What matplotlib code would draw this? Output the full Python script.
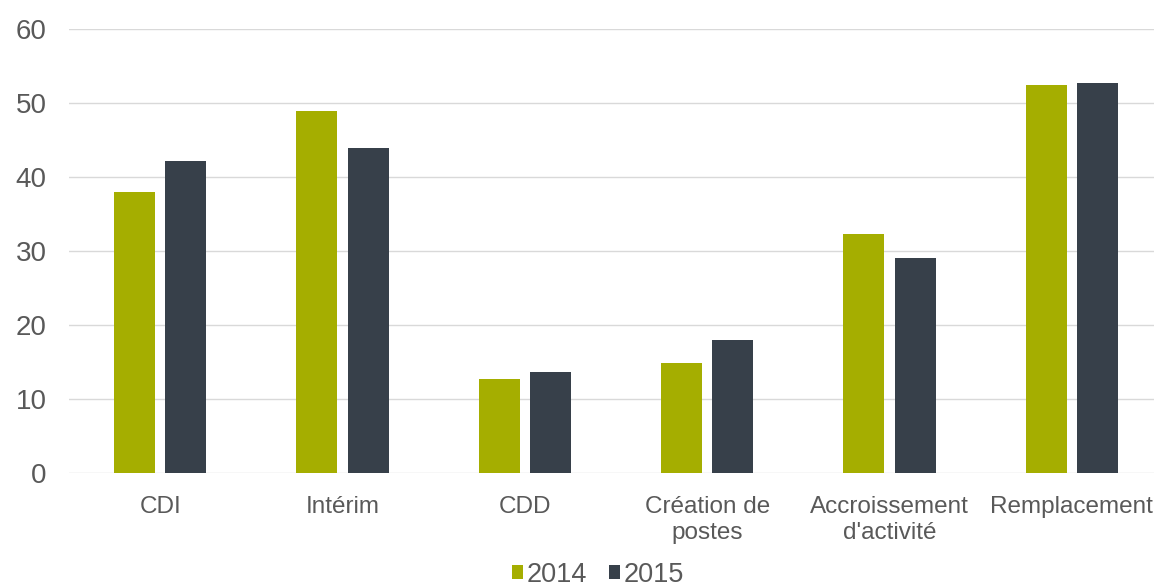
import numpy as np
import matplotlib.pyplot as plt
from matplotlib.patches import Patch

# Données
categories = ["CDI", "Intérim", "CDD", "Création de\npostes",
              "Accroissement\nd'activité", "Remplacement"]
values_2014 = [38.0, 49.0, 12.8, 14.9, 32.4, 52.5]
values_2015 = [42.2, 44.0, 13.7, 18.0, 29.1, 52.7]
years = ["2014", "2015"]
y_ticks = [0, 10, 20, 30, 40, 50, 60]

colors = ["#A5AE00", "#37404A"]
text_color = "#595959"

plt.rcParams['font.family'] = ['Liberation Sans', 'DejaVu Sans']

fig = plt.figure(figsize=(11.54, 5.88), dpi=100)
ax = fig.add_axes([69 / 1154, 114.7 / 588, 1094 / 1154, 0.755])

x = np.arange(len(categories))
width = 0.225
offset = 0.14

ax.bar(x - offset, values_2014, width, color=colors[0], zorder=3)
ax.bar(x + offset, values_2015, width, color=colors[1], zorder=3)

ax.set_xlim(-0.5, len(categories) - 0.5)
ax.set_ylim(0, 60)
ax.set_yticks(y_ticks)
ax.set_xticks(x)
ax.set_xticklabels(categories, linespacing=1.25)

ax.grid(axis='y', color='#D9D9D9', linewidth=1, zorder=0)
for side in ['top', 'right', 'left', 'bottom']:
    ax.spines[side].set_visible(False)
ax.tick_params(axis='y', length=0, pad=16, labelsize=20, labelcolor=text_color)
ax.tick_params(axis='x', length=0, pad=16, labelsize=17.5, labelcolor=text_color)

handles = [Patch(facecolor=c) for c in colors]
fig.legend(handles, years, loc='center', bbox_to_anchor=(0.518, 0.022),
           ncol=2, frameon=False, fontsize=19.5, labelcolor=text_color,
           handlelength=0.42, handleheight=0.42, handletextpad=0.12,
           columnspacing=0.8, borderpad=0.05)

fig.savefig("out.png", dpi=100)
